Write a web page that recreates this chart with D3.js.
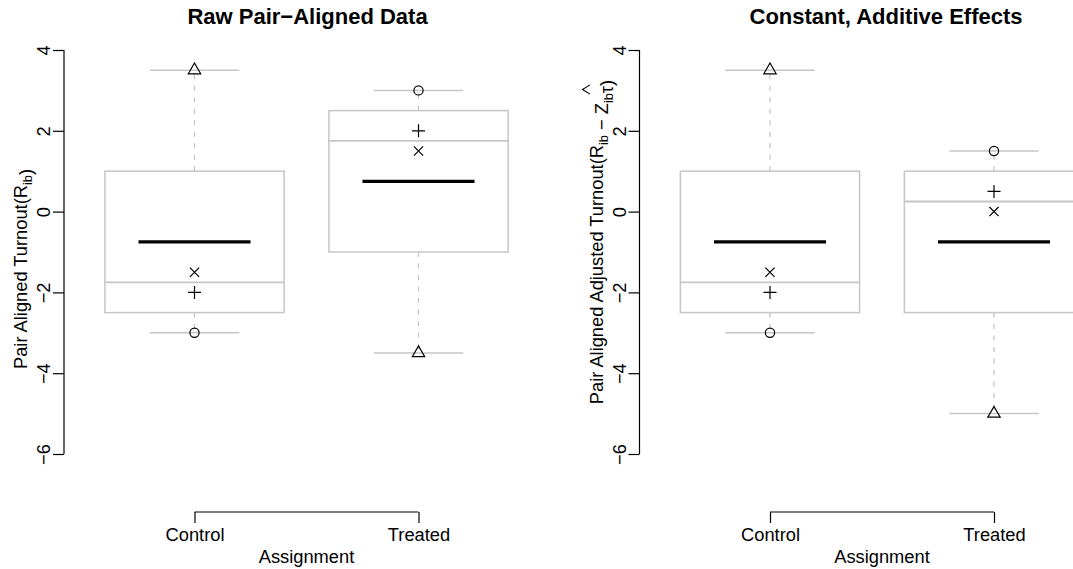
<!DOCTYPE html>
<html lang="en">
<head>
<meta charset="utf-8">
<title>Pair-aligned turnout boxplots</title>
<script src="https://d3js.org/d3.v7.min.js"></script>
<style>
  body { margin: 0; background: white; }
  svg { display: block; font-family: "Liberation Sans", Arial, Helvetica, sans-serif; }
  .tick-label { font-size: 18.3px; fill: black; }
  .title { font-size: 22px; font-weight: bold; }
</style>
</head>
<body>
<svg id="chart" width="1073" height="569"></svg>
<script>
// data: one value per pair, same order in every array
const groups = ["Control", "Treated"];
const pairSymbols = ["triangle", "circle", "cross", "plus"];
const rawControl = [3.5, -3, -1.5, -2];
const rawTreated = [-3.5, 3, 1.5, 2];
const adjControl = [3.5, -3, -1.5, -2];
const adjTreated = [-5, 1.5, 0, 0.5];
const yTicks = [-6, -4, -2, 0, 2, 4];
const panelTitles = ["Raw Pair\u2212Aligned Data", "Constant, Additive Effects"];
const xLabel = "Assignment";

const svg = d3.select("#chart");
const boxGray = "#c6c6c6";

// R style fivenum (hinges)
function fivenum(v) {
  const x = v.slice().sort(d3.ascending);
  const n = x.length;
  const n4 = Math.floor((n + 3) / 2) / 2;
  const d = [1, n4, (n + 1) / 2, n + 1 - n4, n];
  return d.map(k => 0.5 * (x[Math.floor(k) - 1] + x[Math.ceil(k) - 1]));
}

function boxStats(v) {
  const f = fivenum(v);
  const iqr = f[3] - f[1];
  const lo = d3.min(v.filter(d => d >= f[1] - 1.5 * iqr));
  const hi = d3.max(v.filter(d => d <= f[3] + 1.5 * iqr));
  return { lo: lo, q1: f[1], med: f[2], q3: f[3], hi: hi, mean: d3.mean(v) };
}

// point symbols like R pch 2, 1, 4, 3
const rad = 4.6;
function symbolPath(type) {
  if (type == "circle") {
    return d3.arc()({innerRadius: rad, outerRadius: rad, startAngle: 0, endAngle: 2 * Math.PI});
  }
  if (type == "triangle") {
    const r = 1.555 * rad, xc = r * Math.sqrt(3) / 2, yc = r / 2;
    return `M0,${-r}L${xc},${yc}L${-xc},${yc}Z`;
  }
  if (type == "cross") {
    return `M${-rad},${-rad}L${rad},${rad}M${-rad},${rad}L${rad},${-rad}`;
  }
  const p = Math.SQRT2 * rad;
  return `M${-p},0L${p},0M0,${-p}L0,${p}`;
}

function drawPanel(offset, control, treated, title, labelParts, labelY, titleX) {
  const g = svg.append("g").attr("transform", `translate(${offset},0)`);

  const x = d3.scaleLinear().domain([0.5, 2.5]).range([82.5, 530.5]);
  const y = d3.scaleLinear().domain([-6, 4]).range([454, 50]);
  const unit = x(1) - x(0);

  // y axis
  const yAxis = g.append("g")
    .attr("transform", "translate(64,0)")
    .call(d3.axisLeft(y).tickValues(yTicks).tickSize(11).tickPadding(14));
  yAxis.select(".domain").attr("d", `M-0,${y(-6)}V${y(4)}`).attr("stroke-width", 1.2);
  yAxis.selectAll(".tick line").attr("stroke-width", 1.2);
  yAxis.selectAll(".tick text")
    .attr("class", "tick-label")
    .attr("x", null).attr("dy", null)
    .attr("text-anchor", "middle")
    .attr("transform", "translate(-14,0) rotate(-90)");

  // x axis spanning the two group positions only
  const xAxis = g.append("g")
    .attr("transform", "translate(0,512)")
    .call(d3.axisBottom(x).tickValues([1, 2]).tickFormat(i => groups[i - 1]).tickSize(11).tickPadding(18));
  xAxis.select(".domain").attr("d", `M${x(1)},0H${x(2)}`).attr("stroke-width", 1.2);
  xAxis.selectAll(".tick line").attr("stroke-width", 1.2);
  xAxis.selectAll(".tick text")
    .attr("class", "tick-label")
    .attr("dy", null).attr("y", 29);
  svg.selectAll("g[font-family]").attr("font-family", null).attr("font-size", null);

  g.append("text")
    .attr("class", "tick-label")
    .attr("x", x(1.5)).attr("y", 563)
    .attr("text-anchor", "middle")
    .text(xLabel);

  g.append("text")
    .attr("class", "title")
    .attr("x", titleX).attr("y", 24)
    .attr("text-anchor", "middle")
    .text(title);

  // y label with subscripts (and a drawn hat over tau)
  const labG = g.append("g").attr("transform", `translate(27,${labelY}) rotate(-90)`);
  const lab = labG.append("text")
    .attr("class", "tick-label")
    .attr("text-anchor", "middle");
  let hatSpan = null;
  labelParts.forEach(p => {
    if (p.sub) {
      lab.append("tspan").attr("dy", 5).style("font-size", "12.8px").text(p.t);
      lab.append("tspan").attr("dy", -5).text("");
    } else {
      const s = lab.append("tspan").text(p.t);
      if (p.hat) hatSpan = s;
    }
  });
  if (hatSpan) {
    const n = hatSpan.node();
    const a = n.getStartPositionOfChar(0).x, b = n.getEndPositionOfChar(0).x;
    const x0 = a - 1, x1 = b + 1;
    labG.append("path")
      .attr("d", `M${x0},-12.5L${(x0 + x1) / 2},-20L${x1},-12.5`)
      .attr("fill", "none").attr("stroke", "black").attr("stroke-width", 1.1);
  }

  // boxes
  [control, treated].forEach((vals, i) => {
    const cx = x(i + 1);
    const s = boxStats(vals);
    const bw = 0.4 * unit, cw = 0.2 * unit, mw = 0.25 * unit;
    const bg = g.append("g");

    bg.append("line").attr("x1", cx).attr("x2", cx).attr("y1", y(s.q3)).attr("y2", y(s.hi))
      .attr("stroke", boxGray).attr("stroke-width", 1.3).attr("stroke-dasharray", "5,6.5");
    bg.append("line").attr("x1", cx).attr("x2", cx).attr("y1", y(s.q1)).attr("y2", y(s.lo))
      .attr("stroke", boxGray).attr("stroke-width", 1.3).attr("stroke-dasharray", "5,6.5");
    [s.lo, s.hi].forEach(v => {
      bg.append("line").attr("x1", cx - cw).attr("x2", cx + cw).attr("y1", y(v)).attr("y2", y(v))
        .attr("stroke", boxGray).attr("stroke-width", 1.5);
    });
    bg.append("rect")
      .attr("x", cx - bw).attr("width", 2 * bw)
      .attr("y", y(s.q3)).attr("height", y(s.q1) - y(s.q3))
      .attr("fill", "none").attr("stroke", boxGray).attr("stroke-width", 1.5);
    bg.append("line").attr("x1", cx - bw).attr("x2", cx + bw).attr("y1", y(s.med)).attr("y2", y(s.med))
      .attr("stroke", boxGray).attr("stroke-width", 1.8);

    // mean
    bg.append("line").attr("x1", cx - mw).attr("x2", cx + mw).attr("y1", y(s.mean)).attr("y2", y(s.mean))
      .attr("stroke", "black").attr("stroke-width", 3.3);

    // pair points
    bg.selectAll("path.pt")
      .data(vals)
      .join("path")
      .attr("class", "pt")
      .attr("transform", d => `translate(${cx},${y(d)})`)
      .attr("d", (d, k) => symbolPath(pairSymbols[k]))
      .attr("fill", "none")
      .attr("stroke", "black")
      .attr("stroke-width", 1.2);
  });
}

drawPanel(0, rawControl, rawTreated, panelTitles[0],
  [{t: "Pair Aligned Turnout(R"}, {t: "ib", sub: true}, {t: ")"}], 269, 307.5);

drawPanel(575.5, adjControl, adjTreated, panelTitles[1],
  [{t: "Pair Aligned Adjusted Turnout(R"}, {t: "ib", sub: true}, {t: " \u2212 Z"}, {t: "ib", sub: true},
   {t: "\u03c4", hat: true}, {t: ")"}], 242, 310.5);
</script>
</body>
</html>
